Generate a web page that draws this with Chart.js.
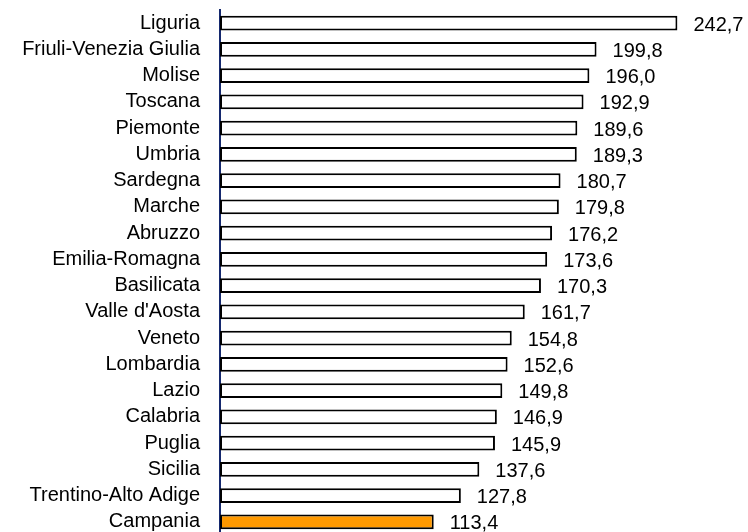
<!DOCTYPE html>
<html>
<head>
<meta charset="utf-8">
<script src="https://cdn.jsdelivr.net/npm/chart.js@4/dist/chart.umd.min.js"></script>
<style>
  html, body { margin: 0; padding: 0; background: #fff; overflow: hidden; }
  #wrap { width: 748px; height: 536px; }
</style>
</head>
<body>
<div id="wrap"><canvas id="chart"></canvas></div>
<script>
// regioni e valori
const regions = ["Liguria", "Friuli-Venezia Giulia", "Molise", "Toscana", "Piemonte", "Umbria",
  "Sardegna", "Marche", "Abruzzo", "Emilia-Romagna", "Basilicata", "Valle d'Aosta", "Veneto",
  "Lombardia", "Lazio", "Calabria", "Puglia", "Sicilia", "Trentino-Alto Adige", "Campania"];
const values = [242.7, 199.8, 196.0, 192.9, 189.6, 189.3, 180.7, 179.8, 176.2, 173.6, 170.3,
  161.7, 154.8, 152.6, 149.8, 146.9, 145.9, 137.6, 127.8, 113.4];
const highlight = "Campania";

const FONT = "'Liberation Sans', Arial, sans-serif";

// etichette valori a destra delle barre
const valueLabels = {
  id: "valueLabels",
  afterDatasetsDraw(chart) {
    const ctx = chart.ctx;
    const meta = chart.getDatasetMeta(0);
    ctx.save();
    ctx.font = "20px " + FONT;
    ctx.fillStyle = "#000";
    ctx.textAlign = "left";
    ctx.textBaseline = "middle";
    meta.data.forEach((bar, i) => {
      const txt = values[i].toFixed(1).replace(".", ",");
      ctx.fillText(txt, bar.x + 16, bar.y + 2);
    });
    ctx.restore();
  }
};

new Chart(document.getElementById("chart"), {
  type: "bar",
  data: {
    labels: regions,
    datasets: [{
      data: values,
      backgroundColor: regions.map(r => r == highlight ? "#ff9900" : "#ffffff"),
      borderColor: "#000",
      borderWidth: 2,
      borderSkipped: false,
      barPercentage: 0.57,
      categoryPercentage: 1
    }]
  },
  options: {
    indexAxis: "y",
    responsive: true,
    maintainAspectRatio: false,
    animation: false,
    layout: { padding: { top: 10, bottom: 1, right: 38, left: 0 } },
    plugins: { legend: { display: false }, tooltip: { enabled: false } },
    scales: {
      x: { display: false, min: 0, max: 260 },
      y: {
        grid: { display: false },
        border: { display: true, color: "#14286e", width: 2 },
        ticks: { color: "#000", padding: 12, autoSkip: false, font: { family: FONT, size: 20 } },
        afterFit: scale => {
          scale.width = 220;
          // niente spazio extra sopra/sotto per le etichette
          scale.paddingTop = 0;
          scale.paddingBottom = 0;
        }
      }
    }
  },
  plugins: [valueLabels]
});
</script>
</body>
</html>
